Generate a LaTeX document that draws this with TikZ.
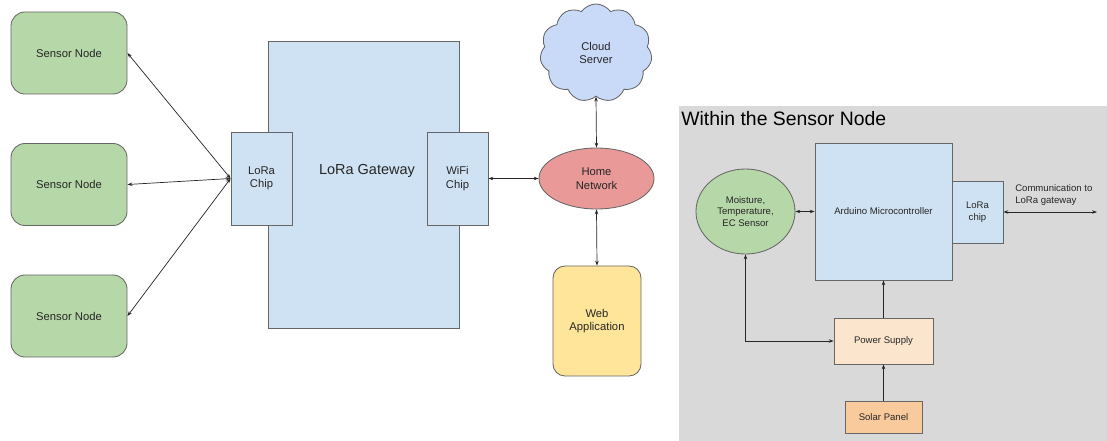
\documentclass[tikz,border=0pt]{standalone}
\usepackage{fontspec}
\setmainfont{Liberation Sans}
\usetikzlibrary{shapes.geometric,shapes.symbols,arrows.meta}

\definecolor{nodegreen}{HTML}{B6D7A8}
\definecolor{chipblue}{HTML}{CFE2F3}
\definecolor{cloudblue}{HTML}{C9DAF8}
\definecolor{netred}{HTML}{EA9999}
\definecolor{webyellow}{HTML}{FFE599}
\definecolor{panelgray}{HTML}{D9D9D9}
\definecolor{powerpeach}{HTML}{FCE5CD}
\definecolor{solarorange}{HTML}{F9CB9C}
\definecolor{edgegray}{HTML}{666666}

\tikzset{
  box/.style={draw=edgegray, line width=0.6pt, align=center, inner sep=1pt},
  sensorbox/.style={box, fill=nodegreen, rounded corners=0.35cm,
    minimum width=2.9cm, minimum height=2.05cm},
  chipbox/.style={box, fill=chipblue},
  link/.style={<->, >={Stealth[length=3.5pt,width=2.5pt]}, line width=0.5pt, black!85},
  small/.style={font=\fontsize{6.8}{8.4}\selectfont}
}

\begin{document}
\begin{tikzpicture}[x=0.025cm, y=-0.025cm,
    every node/.style={font=\fontsize{8}{9.6}\selectfont, text=black!85}]
  \useasboundingbox (0,0) rectangle (1107,441);

  % system overview
  \node[sensorbox] (sn1) at (69,53) {Sensor Node};
  \node[sensorbox] (sn2) at (69,184.5) {Sensor Node};
  \node[sensorbox] (sn3) at (69,316) {Sensor Node};

  \node[chipbox, minimum width=4.775cm, minimum height=7.175cm] (gw) at (363.5,184.5) {};
  \node[font=\fontsize{10.3}{12}\selectfont] (gwlabel) at (367,171) {LoRa Gateway};
  \node[chipbox, minimum width=1.525cm, minimum height=2.325cm] (lchip) at (261.5,178.5) {LoRa\\Chip};
  \node[chipbox, minimum width=1.525cm, minimum height=2.325cm] (wchip) at (457.5,178.5) {WiFi\\Chip};

  \node[box, cloud, cloud puffs=11, cloud puff arc=110, fill=cloudblue,
    minimum width=2.8cm, minimum height=2.45cm] (cloud) at (596,53) {Cloud\\Server};
  \node[box, ellipse, fill=netred, minimum width=2.875cm, minimum height=1.525cm] (home) at (596.5,178.5) {Home\\Network};
  \node[box, fill=webyellow, rounded corners=0.3cm, minimum width=2.2cm, minimum height=2.75cm] (web) at (597,321) {Web\\Application};

  \draw[link] (sn1.east) -- (lchip.west);
  \draw[link] (sn2.east) -- (lchip.west);
  \draw[link] (sn3.east) -- (lchip.west);
  \draw[link] (wchip.east) -- (home.west);
  \draw[link] (cloud.south) -- (home.north);
  \draw[link] (home.south) -- (web.north);

  % within the sensor node
  \fill[panelgray] (679,106) rectangle (1107,441);
  \node[anchor=west, font=\fontsize{13.8}{16}\selectfont, text=black, inner sep=0pt] (title) at (681,119) {Within the Sensor Node};

  \node[box, small, ellipse, fill=nodegreen, minimum width=2.475cm, minimum height=2.125cm] (sensor) at (745.5,211.5) {Moisture,\\Temperature,\\EC Sensor};
  \node[box, small, fill=chipblue, minimum width=3.425cm, minimum height=3.425cm] (mcu) at (883.5,211.5) {Arduino Microcontroller};
  \node[box, small, fill=chipblue, minimum width=1.275cm, minimum height=1.55cm] (radio) at (977.5,212) {LoRa\\chip};
  \node[box, small, fill=powerpeach, minimum width=2.475cm, minimum height=1.15cm] (power) at (883.5,341) {Power Supply};
  \node[box, small, fill=solarorange, minimum width=1.925cm, minimum height=0.8cm] (solar) at (883.5,417) {Solar Panel};
  \coordinate (commend) at (1097,212);
  \node[small, anchor=west, align=left, inner sep=0pt] (commlabel) at (1015,195) {Communication to\\LoRa gateway};

  \draw[link] (sensor.east) -- (mcu.west);
  \draw[link] (radio.east) -- (commend);
  \draw[link] (sensor.south) |- (power.west);
  \draw[link, <-] (mcu.south) -- (power.north);
  \draw[link, <-] (power.south) -- (solar.north);
\end{tikzpicture}
\end{document}
